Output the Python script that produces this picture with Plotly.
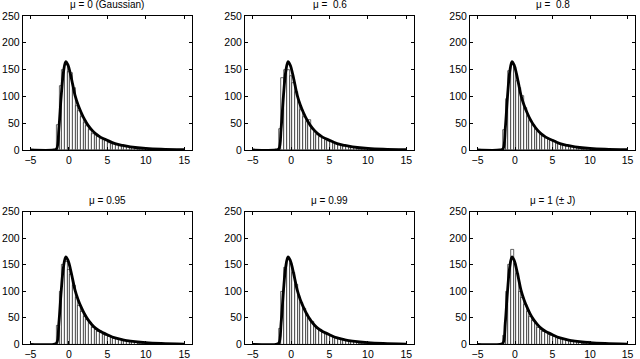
import numpy as np
import plotly.graph_objects as go

# ---- data ----
titles = ["μ = 0 (Gaussian)", "μ =  0.6", "μ =  0.8",
          "μ = 0.95", "μ = 0.99", "μ = 1 (± J)"]

bin_start = -1.6
bin_width = 0.35

counts_mu0 = [47, 120, 150, 158, 145, 144, 115, 82, 72, 62, 50, 45, 38, 30, 28, 24, 20, 18,
              16, 14, 12, 11, 9, 8, 7, 6, 6, 5, 4, 3, 2, 2, 1, 1, 1, 0]
counts_mu06 = [40, 135, 150, 150, 138, 125, 108, 90, 75, 62, 52, 56, 40, 33, 28, 25, 22, 19,
               17, 15, 13, 11, 10, 9, 8, 7, 6, 5, 4, 3, 2, 2, 1, 1, 1, 0]
counts_mu08 = [37, 95, 148, 160, 155, 128, 115, 100, 78, 64, 55, 47, 40, 34, 29, 26, 23, 20,
               18, 16, 14, 12, 10, 9, 8, 7, 6, 5, 4, 3, 2, 2, 1, 1, 1, 0]
counts_mu095 = [35, 100, 150, 155, 140, 132, 110, 87, 72, 62, 52, 46, 40, 32, 27, 24, 21, 19,
                17, 15, 13, 11, 10, 9, 8, 7, 6, 5, 4, 3, 2, 2, 1, 1, 1, 0]
counts_mu099 = [30, 100, 145, 160, 152, 135, 112, 92, 78, 68, 57, 48, 42, 36, 30, 27, 24, 21,
                18, 16, 14, 12, 11, 9, 8, 7, 6, 5, 4, 3, 2, 2, 1, 1, 1, 0]
counts_mu1 = [17, 100, 150, 178, 152, 134, 100, 88, 75, 62, 52, 44, 38, 32, 28, 24, 22, 19,
              17, 15, 13, 11, 10, 9, 8, 7, 6, 5, 4, 3, 2, 2, 5, 1, 1, 0]

curve_x = [-5, -2, -1.6, -1.3, -1.0, -0.7, -0.4, -0.1, 0.2, 0.5, 0.8, 1.2, 1.6, 2.0, 2.5,
           3.0, 3.5, 4, 5, 6, 7, 8, 10, 12, 15]
curve_y = [0, 0, 2, 40, 100, 146, 165, 158, 142, 122, 102, 84, 70, 58, 46,
           37, 30, 25, 18, 12, 8.5, 6, 3, 1.5, 0.5]

x_ticks = [-5, 0, 5, 10, 15]
y_ticks = [0, 50, 100, 150, 200, 250]

all_counts = [counts_mu0, counts_mu06, counts_mu08, counts_mu095, counts_mu099, counts_mu1]

# ---- layout geometry ----
W, H = 640, 359
col_px = [(22.7, 192), (245, 414), (470, 635)]
row_px = [(16, 150), (211.7, 344.3)]

fig = go.Figure()
annotations = []
font = dict(family="Liberation Sans, Arial, sans-serif", size=10.5, color="black")
title_font = dict(family="Liberation Sans, Arial, sans-serif", size=10, color="black")

for i, counts in enumerate(all_counts):
    r, c = divmod(i, 3)
    n = i + 1
    xa = "x" if n == 1 else f"x{n}"
    ya = "y" if n == 1 else f"y{n}"
    centers = [bin_start + bin_width * (k + 0.5) for k in range(len(counts))]
    fig.add_trace(go.Bar(x=centers, y=counts, width=bin_width,
                         marker=dict(color="white", line=dict(color="black", width=0.6)),
                         xaxis=xa, yaxis=ya, showlegend=False))
    fig.add_trace(go.Scatter(x=curve_x, y=curve_y, mode="lines",
                             line=dict(color="black", width=2.8, shape="spline"),
                             xaxis=xa, yaxis=ya, showlegend=False))
    x0, x1 = col_px[c]
    y0, y1 = row_px[r]
    axcommon = dict(showline=True, linecolor="black", linewidth=1, mirror="ticks",
                    ticks="inside", ticklen=3, tickcolor="black", showgrid=False,
                    zeroline=False, tickfont=font, automargin=False)
    fig.layout[("xaxis" if n == 1 else f"xaxis{n}")] = dict(
        domain=[x0 / W, x1 / W], range=[-6, 16], tickvals=x_ticks,
        anchor=ya, **axcommon)
    fig.layout[("yaxis" if n == 1 else f"yaxis{n}")] = dict(
        domain=[1 - y1 / H, 1 - y0 / H], range=[0, 250], tickvals=y_ticks,
        anchor=xa, **axcommon)
    annotations.append(dict(text=titles[i], x=(x0 + x1) / 2 / W, y=1 - (y0 - 4) / H,
                            xref="paper", yref="paper", showarrow=False,
                            xanchor="center", yanchor="bottom", font=title_font))

fig.update_layout(width=W, height=H, margin=dict(l=0, r=0, t=0, b=0),
                  paper_bgcolor="white", plot_bgcolor="white", bargap=0,
                  annotations=annotations)
fig.write_html("out.html", config={"displayModeBar": False},
               post_script="document.body.style.margin='0';document.body.style.padding='0';"
                           "document.body.style.overflow='hidden';")
